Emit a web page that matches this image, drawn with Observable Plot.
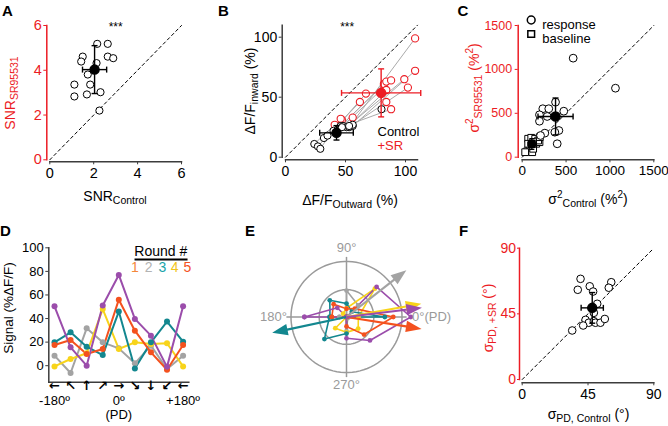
<!DOCTYPE html>
<html><head><meta charset="utf-8">
<script src="https://cdn.jsdelivr.net/npm/d3@7"></script>
<script src="https://cdn.jsdelivr.net/npm/@observablehq/plot@0.6"></script>
<style>
body{margin:0;background:#fff;font-family:"Liberation Sans",Arial,Helvetica,sans-serif;}
#fig{position:relative;width:668px;height:426px;overflow:hidden;background:#fff;}
.lbl{position:absolute;white-space:nowrap;line-height:1;}
.lbl sub{font-size:10.5px;vertical-align:-3px;line-height:0;}
.lbl sup{font-size:10px;vertical-align:6px;line-height:0;}
</style></head><body><div id="fig"></div><script>
// ---------- Panel A data ----------
const snrControl = [2.16,2.64,1.50,2.64,2.89,1.43,2.13,1.73,1.12,1.84,1.12,1.69,2.31,2.26];
const snrSR      = [5.18,5.18,4.61,4.61,4.54,4.39,4.32,3.81,3.36,3.36,2.83,2.92,3.02,2.20];
const snrMean = [2.04, 4.03];
const snrSD   = [0.55, 1.07];
const ticksA = [0,2,4,6];
// ---------- Panel B data ----------
const ctrlOut = [24,27,29,32,35,40,44,46,48,51,53,56,56,80,53,47];
const ctrlIn  = [11, 9, 7,16,18,22,24,26,26,25,25,26,27,40,26,25];
const srOut   = [41,47,46,56,62,67,82,84,88,99,108,108,102,84,84,88];
const srIn    = [27,31,32,33,46,53,61,63,64,65,99,72,58,46,56,40];
const ctrlMeanB = [42.5, 20.3], ctrlSDB = [14, 6];
const srMeanB = [79.7, 53.6], srSDB = [33, 20];
const ticksB = [0,50,100];
// ---------- Panel C data ----------
const respCtrl = [581,1063,380,235,303,474,197,285,197,418,372,399,258,209];
const respSR   = [1128,786,627,552,552,524,483,464,410,304,285,153,274,247];
const baseCtrl = [57,114,68,103,148,160,91,197,68,125,34,182,200,125];
const baseSR   = [68,57,210,221,210,153,133,171,153,96,57,190,228,171];
const respMean = [380, 464], respSD = [200, 210];
const baseMean = [110, 150], baseSD = [45, 60];
const ticksC = [0,500,1000,1500];
// ---------- Panel D / E data ----------
const offsets   = [-180,-135,-90,-45,0,45,90,135,180];
const sigGray   = [8.5,-6.2,31.7,19.8,14.7,2,17,-2.8,8.5];
const sigYellow = [-0.6,5.7,10.5,48,14.2,19.8,18.4,19,-0.6];
const sigTeal   = [19.8,28.3,16.1,9,45.9,-2.3,19.8,37.4,20.4];
const sigOrange = [17.6,21.8,9.9,14.2,56,29.7,11.3,-3.4,17.6];
const sigPurple = [50.4,15.6,0,51,77,39.7,25.5,-1,50.4];
const roundKeys = ["gray","yellow","teal","orange","purple"];
const roundVals = [sigGray, sigYellow, sigTeal, sigOrange, sigPurple];
const ticksD = [0,20,40,60,80,100];
const dirArrows = ["←","↖","↑","↗","→","↘","↓","↙","←"];
const dirLabelAt = [-180, 0, 180];
const dirLabels = ["-180º","0º","+180º"];
const legendNums = ["1","2","3","4","5"];
const ringRadii = [32.7, 66.5];
const arrowKeys = ["gray","yellow","teal","orange","purple"];
const arrowDeg  = [38, 10, 192, -9, 7];
const polarLabels = ["0°(PD)","90°","180°","270°"];
const polarLabelDeg = [0, 90, 180, 270];
// ---------- Panel F data ----------
const pdCtrl = [39.9,38,46.2,48.5,60.9,59.2,51.3,49,43.3,45.5,41.7,49,50.1,53.5,56.5,34.2];
const pdSR   = [69,61.5,63.9,60.3,66.7,62.9,51.9,45.7,40.9,38.9,37,40,38.9,38.9,41.5,33.6];
const pdMean = [47.9, 49.1], pdSD = [7.6, 10.5];
const ticksF = [0,45,90];

// ---------- styling ----------
const FONT = "'Liberation Sans', Arial, Helvetica, sans-serif";
const RED = "#ec1c24", AXC = "#3c3c3c", GRAY = "#9a9a9a";
const colorOf = {gray:"#a3a3a3", yellow:"#f8d41a", teal:"#13878f", orange:"#f4511e", purple:"#9b4dab"};
const legendColors = ["#f4883a","#b3b3b3","#1aa3aa","#f2c418","#f4511e"];
const fig = document.getElementById("fig");
const baseStyle = {fontFamily: FONT, fontSize: "13.5px", background: "transparent", color: "#000", overflow: "visible"};
const fmt = d => String(d);

function mount(svg, left, top) {
  svg.style.position = "absolute"; svg.style.left = left + "px"; svg.style.top = top + "px";
  fig.appendChild(svg);
}
function label(html, cx, cy, {rot = false, color = "#000", size = 14, weight = "normal", family = FONT} = {}) {
  const d = document.createElement("div");
  d.className = "lbl"; d.innerHTML = html;
  d.style.left = cx + "px"; d.style.top = cy + "px";
  d.style.color = color; d.style.fontSize = size + "px"; d.style.fontWeight = weight; d.style.fontFamily = family;
  d.style.transform = "translate(-50%,-50%)" + (rot ? " rotate(-90deg)" : "");
  fig.appendChild(d);
  return d;
}
const vcap = {draw(ctx, size) { const r = Math.sqrt(size / Math.PI); ctx.moveTo(0, -r); ctx.lineTo(0, r); }};
const hcap = {draw(ctx, size) { const r = Math.sqrt(size / Math.PI); ctx.moveTo(-r, 0); ctx.lineTo(r, 0); }};
const head = {draw(ctx, size) { const r = Math.sqrt(size / Math.PI); const L = 2.6 * r, w = 0.95 * r;
  ctx.moveTo(0, 0); ctx.lineTo(-w, L); ctx.lineTo(w, L); ctx.closePath(); }};

function errorBars(m, color, {capR = 3, sw = 1.4, symbol = "circle", r = 4.5} = {}) {
  return [
    Plot.link(m, {x1: d => d.x - d.sx, x2: d => d.x + d.sx, y1: "y", y2: "y", stroke: color, strokeWidth: sw}),
    Plot.link(m, {x1: "x", x2: "x", y1: d => d.y - d.sy, y2: d => d.y + d.sy, stroke: color, strokeWidth: sw}),
    Plot.dot(m, {x: d => d.x - d.sx, y: "y", symbol: vcap, r: capR, stroke: color, fill: "none", strokeWidth: sw}),
    Plot.dot(m, {x: d => d.x + d.sx, y: "y", symbol: vcap, r: capR, stroke: color, fill: "none", strokeWidth: sw}),
    Plot.dot(m, {x: "x", y: d => d.y - d.sy, symbol: hcap, r: capR, stroke: color, fill: "none", strokeWidth: sw}),
    Plot.dot(m, {x: "x", y: d => d.y + d.sy, symbol: hcap, r: capR, stroke: color, fill: "none", strokeWidth: sw}),
    Plot.dot(m, {x: "x", y: "y", symbol, r, fill: color, stroke: color})
  ];
}
const pairs = (xs, ys) => xs.map((x, i) => ({x, y: ys[i]}));
const meanRow = (m, s) => [{x: m[0], y: m[1], sx: s[0], sy: s[1]}];
const diag = (ticks) => [[ticks[0], ticks[0]], [ticks[ticks.length - 1], ticks[ticks.length - 1]]];

// ================= Panel A =================
mount(Plot.plot({
  width: 220, height: 205, marginLeft: 49.3, marginRight: 39, marginTop: 25, marginBottom: 45.7,
  style: baseStyle,
  x: {domain: [0, 6]}, y: {domain: [0, 6]},
  marks: [
    Plot.frame({anchor: "left", dx: -3, stroke: RED, strokeWidth: 1.5}),
    Plot.frame({anchor: "bottom", dy: 2, stroke: AXC, strokeWidth: 1.5}),
    Plot.axisY({ticks: ticksA, tickFormat: fmt, tickSize: 3, tickPadding: 2, dx: -3, color: RED, label: null, fontSize: 14.5}),
    Plot.axisX({ticks: ticksA, tickFormat: fmt, tickSize: 3, tickPadding: 3, dy: 2, stroke: AXC, fill: "#000", label: null, fontSize: 14.5}),
    Plot.line(diag(ticksA), {stroke: "#000", strokeDasharray: "3,3", strokeWidth: 1}),
    Plot.dot(pairs(snrControl, snrSR), {x: "x", y: "y", r: 3.6, stroke: "#000", fill: "#fff", strokeWidth: 1}),
    ...errorBars(meanRow(snrMean, snrSD), "#000"),
    Plot.text(["***"], {frameAnchor: "top", dy: -3, fontSize: 12})
  ]
}), 0, 0);
label("A", 7.5, 10, {size: 15, weight: "bold"});
label("SNR<sub>SR95531</sub>", 10, 92.5, {rot: true, color: RED});
label("SNR<sub>Control</sub>", 115, 196);

// ================= Panel B =================
const linksB = ctrlOut.map((x, i) => ({x1: x, y1: ctrlIn[i], x2: srOut[i], y2: srIn[i]}));
mount(Plot.plot({
  width: 220, height: 205, marginLeft: 65, marginRight: 23, marginTop: 24.7, marginBottom: 48.3,
  style: baseStyle,
  x: {domain: [0, 110]}, y: {domain: [0, 110]},
  marks: [
    Plot.frame({anchor: "left", dx: -3.3, stroke: AXC, strokeWidth: 1.5}),
    Plot.frame({anchor: "bottom", dy: 2.6, stroke: AXC, strokeWidth: 1.5}),
    Plot.axisY({ticks: ticksB, tickFormat: fmt, tickSize: 3, tickPadding: 2, dx: -3.3, stroke: AXC, fill: "#000", label: null, fontSize: 14}),
    Plot.axisX({ticks: ticksB, tickFormat: fmt, tickSize: 3, tickPadding: 3, dy: 2.6, stroke: AXC, fill: "#000", label: null, fontSize: 14}),
    Plot.line([[0, 0], [110, 110]], {stroke: "#000", strokeDasharray: "3,3", strokeWidth: 1}),
    Plot.link(linksB, {x1: "x1", y1: "y1", x2: "x2", y2: "y2", stroke: "#aaa", strokeWidth: 1}),
    Plot.dot(pairs(srOut, srIn), {x: "x", y: "y", r: 3.6, stroke: RED, fill: "#fff", strokeWidth: 1.1}),
    Plot.dot(pairs(ctrlOut, ctrlIn), {x: "x", y: "y", r: 3.6, stroke: "#000", fill: "#fff", strokeWidth: 1}),
    ...errorBars(meanRow(srMeanB, srSDB), RED),
    ...errorBars(meanRow(ctrlMeanB, ctrlSDB), "#000"),
    Plot.text(["***"], {frameAnchor: "top", dx: -4.3, dy: -3, fontSize: 12}),
    Plot.text(["Control"], {frameAnchor: "bottom-right", textAnchor: "start", dx: -40, dy: -21, fontSize: 13}),
    Plot.text(["+SR"], {frameAnchor: "bottom-right", textAnchor: "start", dx: -40, dy: -7, fontSize: 13, fill: RED})
  ]
}), 220, 0);
label("B", 223.5, 10, {size: 15, weight: "bold"});
label("ΔF/F<sub>inward</sub> (%)", 249.5, 90.5, {rot: true});
label("ΔF/F<sub>Outward</sub> (%)", 350, 200);

// ================= Panel C =================
mount(Plot.plot({
  width: 228, height: 205, marginLeft: 81.7, marginRight: 14.7, marginTop: 25, marginBottom: 48.3,
  style: baseStyle,
  x: {domain: [0, 1500]}, y: {domain: [0, 1500]},
  marks: [
    Plot.frame({anchor: "left", dx: -4, stroke: RED, strokeWidth: 1.5}),
    Plot.frame({anchor: "bottom", dy: 2.6, stroke: AXC, strokeWidth: 1.5}),
    Plot.axisY({ticks: ticksC, tickFormat: fmt, tickSize: 3, tickPadding: 3, dx: -4, color: RED, label: null, fontSize: 12.5}),
    Plot.axisX({ticks: ticksC, tickFormat: fmt, tickSize: 3, tickPadding: 3, dy: 2.6, stroke: AXC, fill: "#000", label: null, fontSize: 13.5}),
    Plot.line(diag(ticksC), {stroke: "#000", strokeDasharray: "3,3", strokeWidth: 1}),
    Plot.dot(pairs(baseCtrl, baseSR), {x: "x", y: "y", symbol: "square", r: 3.8, stroke: "#000", fill: "#fff", strokeWidth: 1}),
    ...errorBars(meanRow(baseMean, baseSD), "#000", {symbol: "square", r: 3.6, capR: 2.5}),
    Plot.dot(pairs(respCtrl, respSR), {x: "x", y: "y", r: 3.9, stroke: "#000", fill: "#fff", strokeWidth: 1}),
    ...errorBars(meanRow(respMean, respSD), "#000"),
    Plot.dot(["response"], {frameAnchor: "top-left", dx: 9, dy: -5.5, r: 3.9, stroke: "#000", fill: "#fff"}),
    Plot.dot(["baseline"], {frameAnchor: "top-left", dx: 9, dy: 8.5, symbol: "square", r: 3.8, stroke: "#000", fill: "#fff"}),
    Plot.text(["response"], {frameAnchor: "top-left", textAnchor: "start", dx: 20, dy: -5.5, fontSize: 13}),
    Plot.text(["baseline"], {frameAnchor: "top-left", textAnchor: "start", dx: 20, dy: 8.5, fontSize: 13})
  ]
}), 440, 0);
label("C", 463, 10, {size: 15, weight: "bold"});
label("σ<sup>2</sup><sub>SR95531</sub> (%<sup>2</sup>)", 474, 88, {rot: true, color: RED});
label("σ<sup>2</sup><sub>Control</sub> (%<sup>2</sup>)", 588, 199);

// ================= Panel D =================
const longD = roundKeys.flatMap((k, j) => offsets.map((o, i) => ({round: k, offset: o, value: roundVals[j][i]})));
mount(Plot.plot({
  width: 220, height: 221, marginLeft: 48.3, marginRight: 31.7, marginTop: 42.3, marginBottom: 44.3,
  style: baseStyle,
  x: {domain: [-196, 196], axis: null}, y: {domain: [-14, 100]},
  color: {type: "identity"},
  marks: [
    Plot.frame({anchor: "left", stroke: AXC, strokeWidth: 1.5}),
    Plot.frame({anchor: "bottom", stroke: AXC, strokeWidth: 1.5}),
    Plot.axisY({ticks: ticksD, tickFormat: fmt, tickSize: 3, tickPadding: 2, stroke: AXC, fill: "#000", label: null, fontSize: 13}),
    Plot.line(longD, {x: "offset", y: "value", z: "round", stroke: d => colorOf[d.round], strokeWidth: 2}),
    Plot.dot(longD, {x: "offset", y: "value", r: 3, fill: d => colorOf[d.round]}),
    Plot.text(dirArrows, {x: (d, i) => offsets[i], frameAnchor: "bottom", dy: 7.5, fontSize: 13, fontWeight: "bold", fontFamily: "DejaVu Sans"}),
    Plot.text(dirLabels, {x: (d, i) => dirLabelAt[i], frameAnchor: "bottom", dy: 22.5, fontSize: 13}),
    Plot.text(["(PD)"], {x: () => 0, frameAnchor: "bottom", dy: 36.5, fontSize: 13})
  ]
}), 0, 205);
label("D", 5.5, 230, {size: 15, weight: "bold"});
label("Signal (%ΔF/F)", 9, 308, {rot: true, size: 13.5});
const rl = label("Round #", 160.8, 251.5, {size: 14});
rl.style.borderBottom = "2px solid #000"; rl.style.paddingBottom = "1px";
legendNums.forEach((n, i) => label(n, [135, 148.7, 162.3, 174.7, 187.3][i], 267, {size: 14, color: legendColors[i]}));

// ================= Panel E =================
const rad = a => a * Math.PI / 180;
const polarPts = longD.map(d => {
  const r = Math.max(0, d.value), a = rad(-d.offset);
  return {round: d.round, x: r * Math.cos(a), y: r * Math.sin(a)};
});
const ringPts = ringRadii.flatMap(R => d3.range(0, 361, 4).map(a => ({ring: R, x: R * Math.cos(rad(a)), y: R * Math.sin(rad(a))})));
const reach = 72, shaft = 74, tip = 91;
const arrows = arrowKeys.map((k, i) => ({round: k, deg: arrowDeg[i]}));
const labelsE = polarLabels.map((t, i) => ({t, deg: polarLabelDeg[i]}));
const outerR = ringRadii[1];
mount(Plot.plot({
  width: 232, height: 221, margin: 0,
  style: baseStyle,
  x: {domain: [-100, 100], range: [42.5, 209.5], axis: null},
  y: {domain: [-100, 100], range: [195, 28], axis: null},
  color: {type: "identity"},
  marks: [
    Plot.line(ringPts, {x: "x", y: "y", z: "ring", stroke: GRAY, strokeWidth: 1.5}),
    Plot.link([reach], {x1: d => -d, x2: d => d, y1: () => 0, y2: () => 0, stroke: GRAY, strokeWidth: 1.5}),
    Plot.link([reach], {y1: d => -d, y2: d => d, x1: () => 0, x2: () => 0, stroke: GRAY, strokeWidth: 1.5}),
    Plot.line(polarPts, {x: "x", y: "y", z: "round", stroke: d => colorOf[d.round], strokeWidth: 1.6}),
    Plot.dot(polarPts, {x: "x", y: "y", r: 2.4, fill: d => colorOf[d.round]}),
    Plot.link(arrows, {x1: () => 0, y1: () => 0, x2: d => shaft * Math.cos(rad(d.deg)), y2: d => shaft * Math.sin(rad(d.deg)), stroke: d => colorOf[d.round], strokeWidth: 2.2}),
    Plot.dot(arrows, {x: d => tip * Math.cos(rad(d.deg)), y: d => tip * Math.sin(rad(d.deg)), symbol: head, r: 6, rotate: d => 90 - d.deg, fill: d => colorOf[d.round], stroke: "none"}),
    Plot.text(labelsE.filter(d => d.deg === 0), {x: () => outerR, y: () => 0, text: "t", textAnchor: "start", dx: 10, fill: GRAY, fontSize: 13}),
    Plot.text(labelsE.filter(d => d.deg === 180), {x: () => -outerR, y: () => 0, text: "t", textAnchor: "end", dx: -4, fill: GRAY, fontSize: 13}),
    Plot.text(labelsE.filter(d => d.deg === 90), {x: () => 0, y: () => outerR, text: "t", dy: -13.5, fill: GRAY, fontSize: 13}),
    Plot.text(labelsE.filter(d => d.deg === 270), {x: () => 0, y: () => -outerR, text: "t", dy: 12.5, fill: GRAY, fontSize: 13})
  ]
}), 220, 205);
label("E", 250, 230, {size: 15, weight: "bold"});

// ================= Panel F =================
mount(Plot.plot({
  width: 216, height: 221, marginLeft: 69.7, marginRight: 14.7, marginTop: 42.7, marginBottom: 47,
  style: baseStyle,
  x: {domain: [0, 90]}, y: {domain: [0, 90]},
  marks: [
    Plot.frame({anchor: "left", dx: -2.7, stroke: RED, strokeWidth: 1.5}),
    Plot.frame({anchor: "bottom", dy: 3.3, stroke: AXC, strokeWidth: 1.5}),
    Plot.axisY({ticks: ticksF, tickFormat: fmt, tickSize: 2, tickPadding: 1.5, dx: -2.7, color: RED, label: null, fontSize: 14}),
    Plot.axisX({ticks: ticksF, tickFormat: fmt, tickSize: 3, tickPadding: 3, dy: 3.3, stroke: AXC, fill: "#000", label: null, fontSize: 14}),
    Plot.line(diag(ticksF), {stroke: "#000", strokeDasharray: "3,3", strokeWidth: 1}),
    Plot.dot(pairs(pdCtrl, pdSR), {x: "x", y: "y", r: 3.8, stroke: "#000", fill: "#fff", strokeWidth: 1}),
    ...errorBars(meanRow(pdMean, pdSD), "#000")
  ]
}), 452, 205);
label("F", 463.5, 230, {size: 15, weight: "bold"});
label("σ<sub>PD, +SR</sub> (°)", 487.5, 317.5, {rot: true, color: RED});
label("σ<sub>PD, Control</sub> (°)", 588.5, 414);
</script></body></html>
